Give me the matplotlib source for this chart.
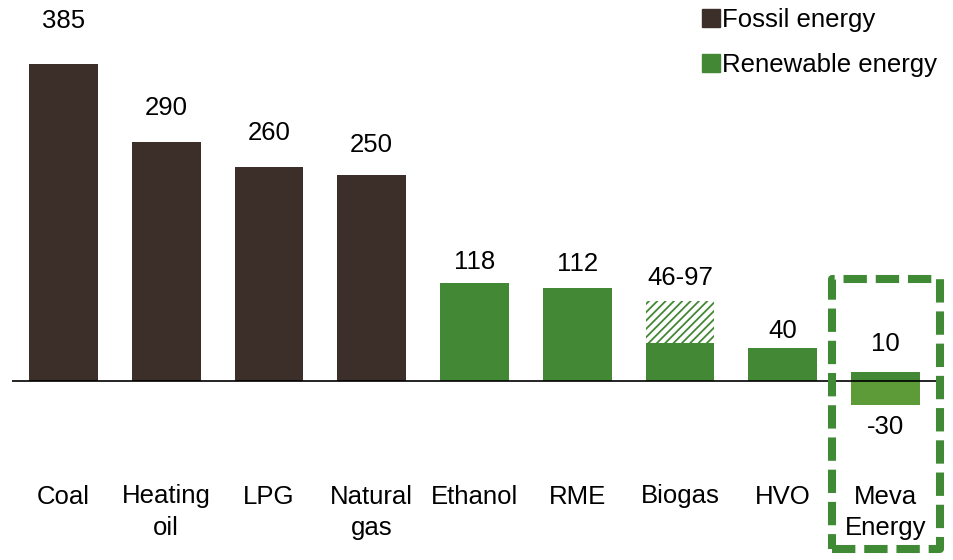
import numpy as np
import matplotlib.pyplot as plt
from matplotlib.patches import Patch, Rectangle

# %% Data

categories = ["Coal", "Heating\noil", "LPG", "Natural\ngas", "Ethanol",
              "RME", "Biogas", "HVO", "Meva\nEnergy"]
emissions = [385, 290, 260, 250, 118, 112, 46, 40, 10]
is_fossil = [True, True, True, True, False, False, False, False, False]
value_labels = ["385", "290", "260", "250", "118", "112", "46-97", "40", "10"]

biogas_high = 97
meva_negative = -30
meva_negative_label = "-30"

# label distance above each bar (pixels)
label_gap = [44, 35, 35, 31, 22, 25, 24, 18, 29]

# %% Style

brown = "#3c2e29"
green = "#438834"
light_green = "#5c9b37"
box_green = "#418a35"

plt.rcParams['font.family'] = ['Liberation Sans', 'DejaVu Sans']
fs = 18.5

fig = plt.figure(figsize=(9.54, 5.6), dpi=100)
ax = fig.add_axes([12 / 954, 0, 925 / 954, 1])

px_per_unit = 316.5 / 385
zero_px = 380.5
ax.set_xlim(-0.5, 8.5)
ax.set_ylim(-(560 - zero_px) / px_per_unit, zero_px / px_per_unit)
ax.axis("off")

x = np.arange(len(categories))
w = 0.67

colors = [brown if f else green for f in is_fossil]
ax.bar(x, emissions, width=w, color=colors, linewidth=0, zorder=2)

# biogas range (hatched)
bi = categories.index("Biogas")
plt.rcParams['hatch.linewidth'] = 1.3
ax.bar(x[bi], biogas_high - emissions[bi], bottom=emissions[bi], width=w,
       color="white", edgecolor=green, hatch="////", linewidth=0, zorder=2)

# Meva negative part
mi = len(categories) - 1
ax.bar(x[mi], meva_negative, width=w, color=light_green, linewidth=0, zorder=2)

ax.axhline(0, color="black", linewidth=1.2, zorder=3)

# value labels
for i, lab in enumerate(value_labels):
    top = biogas_high if i == bi else emissions[i]
    ax.annotate(lab, (x[i], top), xytext=(0, label_gap[i] - 1), textcoords="offset pixels",
                ha="center", va="center", fontsize=fs)
ax.annotate(meva_negative_label, (x[mi], meva_negative), xytext=(0, -22),
            textcoords="offset pixels", ha="center", va="center", fontsize=fs)

# category labels
for i, cat in enumerate(categories):
    ax.annotate(cat, (x[i], 0), xytext=(0, -104), textcoords="offset pixels",
                ha="center", va="top", fontsize=fs, linespacing=1.42)

# dashed highlight box
bx0 = (832 - 12) / 102.8 - 0.5
bx1 = (940 - 12) / 102.8 - 0.5
by1 = (zero_px - 279) / px_per_unit
by0 = (zero_px - 549) / px_per_unit
box = Rectangle((bx0, by0), bx1 - bx0, by1 - by0, fill=False, edgecolor=box_green,
                linewidth=5.8, linestyle=(0, (2.9, 1.1)), joinstyle="round",
                clip_on=False, zorder=4)
ax.add_patch(box)

# legend
handles = [Patch(color=brown, label="Fossil energy"),
           Patch(color=green, label="Renewable energy")]
fig.legend(handles=handles, loc="upper left", bbox_to_anchor=(702 / 954, 1 - 8 / 560),
           frameon=False, fontsize=fs, handlelength=0.7, handleheight=0.7,
           handletextpad=0.08, labelspacing=0.8, borderpad=0, borderaxespad=0)

plt.savefig("out.png", dpi=100)
